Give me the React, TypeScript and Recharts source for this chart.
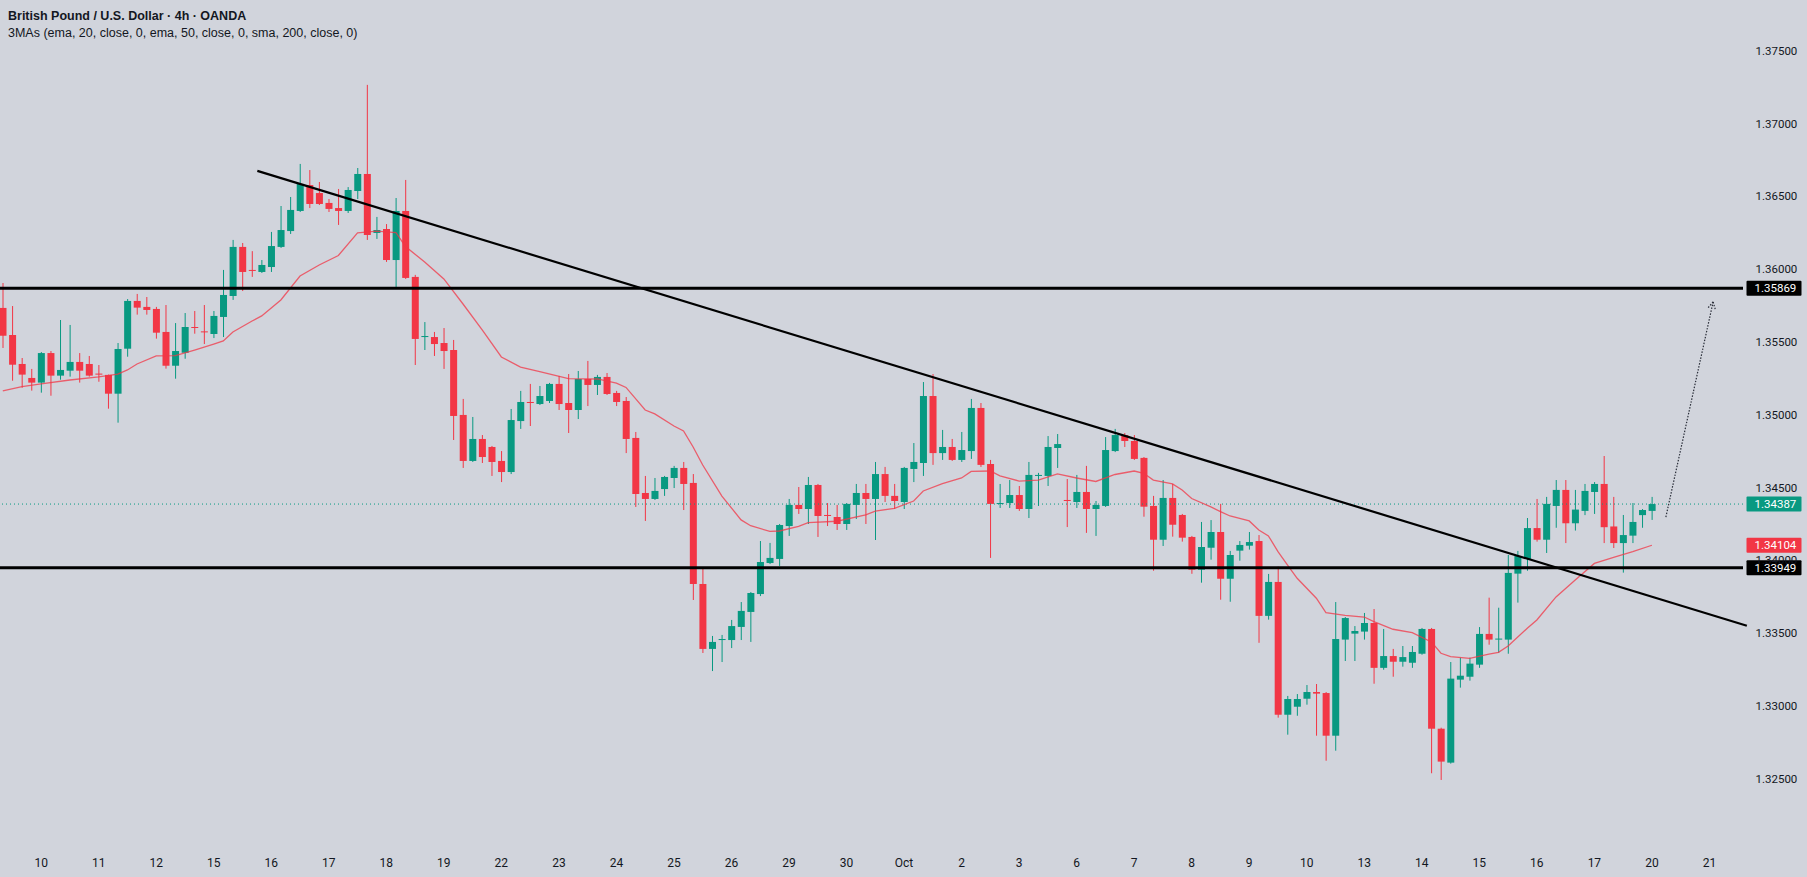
import { Bar, ComposedChart, Line, ReferenceLine, XAxis, YAxis } from "recharts";

const GREEN = "#089981";
const RED = "#f23645";
const INK = "#131722";
const BG = "#d1d4dc";

// 4h candles, oldest first
const opens = [
  1.35734, 1.35548, 1.35349, 1.35253, 1.35221, 1.35424, 1.35269, 1.35303, 1.35363, 1.35349,
  1.35283, 1.35274, 1.35145, 1.35454, 1.35782, 1.35741, 1.35727, 1.35569, 1.35337, 1.35426,
  1.35603, 1.35573, 1.35555, 1.35672, 1.35816, 1.36153, 1.35995, 1.35981, 1.36015, 1.36153,
  1.36262, 1.364, 1.36578, 1.36523, 1.36455, 1.3642, 1.364, 1.36537, 1.36654, 1.36249,
  1.36276, 1.36063, 1.364, 1.35947, 1.35534, 1.35534, 1.35493, 1.35445, 1.34999, 1.34683,
  1.34834, 1.34779, 1.34683, 1.34607, 1.34957, 1.35088, 1.35074, 1.35095, 1.35212, 1.35081,
  1.35033, 1.35246, 1.35205, 1.3526, 1.3515, 1.35095, 1.34841, 1.34463, 1.34422, 1.3449,
  1.34566, 1.34635, 1.34532, 1.33838, 1.33392, 1.33453, 1.33453, 1.33543, 1.33646, 1.33769,
  1.33982, 1.3401, 1.34236, 1.34381, 1.34353, 1.34518, 1.34312, 1.34298, 1.3425, 1.34381,
  1.34463, 1.34422, 1.34593, 1.34443, 1.34401, 1.34628, 1.34669, 1.35129, 1.34737, 1.34779,
  1.3469, 1.34751, 1.35047, 1.34662, 1.34388, 1.34394, 1.34449, 1.34353, 1.3458, 1.3458,
  1.34772, 1.34415, 1.34401, 1.3447, 1.34353, 1.34374, 1.34751, 1.34861, 1.3482, 1.34704,
  1.34374, 1.34142, 1.34429, 1.34312, 1.34161, 1.33936, 1.34087, 1.34195, 1.33874, 1.34067,
  1.34101, 1.34133, 1.33619, 1.33852, 1.3294, 1.32995, 1.3305, 1.33096, 1.33089, 1.32796,
  1.33456, 1.33497, 1.33511, 1.3357, 1.33262, 1.33343, 1.33304, 1.33297, 1.33359, 1.33529,
  1.32844, 1.32611, 1.33181, 1.33201, 1.33284, 1.33495, 1.33456, 1.33456, 1.33909, 1.3401,
  1.34222, 1.34142, 1.34374, 1.34484, 1.34255, 1.3434, 1.3447, 1.34525, 1.34233, 1.34119,
  1.3417, 1.34311, 1.3434,
];
const highs = [
  1.35905, 1.35747, 1.3539, 1.35315, 1.35431, 1.35438, 1.35651, 1.35617, 1.35424, 1.35404,
  1.35342, 1.35276, 1.35493, 1.35795, 1.3583, 1.35809, 1.35741, 1.35754, 1.3563, 1.35699,
  1.35713, 1.35754, 1.35713, 1.35995, 1.36201, 1.3618, 1.36124, 1.36063, 1.36256, 1.36434,
  1.36496, 1.36723, 1.36681, 1.36599, 1.36482, 1.36551, 1.36564, 1.36695, 1.37266, 1.36359,
  1.3631, 1.36489, 1.36613, 1.35961, 1.35637, 1.35569, 1.35596, 1.35514, 1.35109, 1.34985,
  1.34861, 1.34786, 1.34751, 1.3504, 1.35164, 1.35212, 1.35198, 1.35219, 1.35267, 1.3528,
  1.35301, 1.3537, 1.35274, 1.35287, 1.35164, 1.35122, 1.34882, 1.3458, 1.34566, 1.3458,
  1.34649, 1.34676, 1.34593, 1.33948, 1.33481, 1.33488, 1.33591, 1.33714, 1.33783, 1.34133,
  1.3412, 1.3425, 1.34422, 1.34504, 1.34573, 1.34525, 1.34394, 1.34381, 1.34394, 1.34525,
  1.34525, 1.34676, 1.34642, 1.34525, 1.34642, 1.34806, 1.35225, 1.3528, 1.34896, 1.34834,
  1.34882, 1.35109, 1.35081, 1.3469, 1.34525, 1.34552, 1.34511, 1.34676, 1.34601, 1.34854,
  1.34868, 1.34559, 1.34587, 1.34649, 1.34408, 1.34847, 1.34903, 1.34875, 1.34861, 1.3471,
  1.34443, 1.34552, 1.34525, 1.34319, 1.34168, 1.34264, 1.34277, 1.34388, 1.34065, 1.34133,
  1.34195, 1.34174, 1.33907, 1.33957, 1.33069, 1.33082, 1.33144, 1.33151, 1.33096, 1.33714,
  1.33611, 1.33549, 1.33639, 1.33666, 1.33529, 1.33392, 1.33412, 1.33412, 1.33536, 1.33536,
  1.32851, 1.33302, 1.33332, 1.33332, 1.33542, 1.33744, 1.33675, 1.34037, 1.34065, 1.34291,
  1.34422, 1.34436, 1.34552, 1.34552, 1.34484, 1.34525, 1.34538, 1.34717, 1.34436, 1.34312,
  1.34394, 1.34353, 1.34436,
];
const lows = [
  1.35459, 1.35234, 1.35186, 1.35166, 1.35152, 1.35131, 1.35241, 1.35262, 1.35221, 1.35262,
  1.35227, 1.35042, 1.34946, 1.35399, 1.35688, 1.35688, 1.35523, 1.35317, 1.35248, 1.35385,
  1.35557, 1.35486, 1.35527, 1.35534, 1.35789, 1.3585, 1.35947, 1.35974, 1.35981, 1.36146,
  1.36242, 1.36393, 1.3642, 1.36441, 1.36393, 1.36304, 1.36386, 1.36482, 1.36201, 1.36208,
  1.3605, 1.35864, 1.35933, 1.35342, 1.35445, 1.35404, 1.35315, 1.34827, 1.34635, 1.34676,
  1.34669, 1.3458, 1.34538, 1.34593, 1.34903, 1.34923, 1.35067, 1.35081, 1.35033, 1.34875,
  1.34971, 1.3506, 1.35136, 1.35136, 1.3506, 1.34737, 1.34367, 1.34271, 1.34415, 1.34443,
  1.34497, 1.34346, 1.33728, 1.33364, 1.3324, 1.33302, 1.33398, 1.33453, 1.3344, 1.33755,
  1.33975, 1.33962, 1.34168, 1.34319, 1.3425, 1.34161, 1.34236, 1.34209, 1.34209, 1.34284,
  1.3425, 1.3414, 1.34401, 1.34353, 1.34353, 1.34538, 1.3458, 1.34656, 1.3469, 1.34683,
  1.34676, 1.34697, 1.34642, 1.34017, 1.3436, 1.3436, 1.3434, 1.34291, 1.34374, 1.34511,
  1.34635, 1.34229, 1.3436, 1.34189, 1.34168, 1.34367, 1.34744, 1.34779, 1.3469, 1.343,
  1.33929, 1.34099, 1.34163, 1.34129, 1.33908, 1.33847, 1.34005, 1.3373, 1.33716, 1.33998,
  1.34074, 1.33434, 1.33593, 1.3292, 1.32803, 1.32933, 1.33009, 1.32796, 1.32624, 1.32693,
  1.33309, 1.33309, 1.33456, 1.33153, 1.33249, 1.33201, 1.3327, 1.33262, 1.33352, 1.32538,
  1.32492, 1.32604, 1.33126, 1.33174, 1.33262, 1.33421, 1.33366, 1.33359, 1.3371, 1.33929,
  1.34129, 1.34051, 1.34224, 1.34119, 1.34205, 1.34311, 1.34319, 1.34119, 1.34085, 1.33916,
  1.34119, 1.34224, 1.34278,
];
const closes = [
  1.35543, 1.35344, 1.35276, 1.35221, 1.35424, 1.35269, 1.35308, 1.35363, 1.35303, 1.35269,
  1.35276, 1.35145, 1.35452, 1.35782, 1.35736, 1.3572, 1.35564, 1.35337, 1.35438, 1.35603,
  1.35598, 1.35569, 1.35679, 1.35823, 1.36153, 1.35981, 1.35988, 1.36029, 1.36159, 1.36269,
  1.36407, 1.36585, 1.36448, 1.36448, 1.36414, 1.364, 1.36544, 1.36654, 1.36235, 1.36269,
  1.36063, 1.364, 1.3594, 1.35521, 1.35541, 1.35486, 1.35438, 1.34992, 1.34683, 1.34834,
  1.3471, 1.34676, 1.34607, 1.34964, 1.35088, 1.35081, 1.35129, 1.35212, 1.35074, 1.35033,
  1.35246, 1.35205, 1.3526, 1.35143, 1.35088, 1.34834, 1.34456, 1.34422, 1.34477, 1.34573,
  1.34635, 1.34525, 1.33838, 1.33392, 1.3344, 1.3346, 1.33549, 1.33653, 1.33776, 1.33989,
  1.34017, 1.34243, 1.34381, 1.34353, 1.34518, 1.34305, 1.34305, 1.3425, 1.34388, 1.34463,
  1.34422, 1.34593, 1.34443, 1.34408, 1.34635, 1.34676, 1.35129, 1.34737, 1.34779, 1.3469,
  1.34758, 1.35047, 1.34656, 1.34388, 1.34394, 1.34449, 1.34353, 1.34587, 1.34587, 1.34779,
  1.34799, 1.34408, 1.3447, 1.34353, 1.34381, 1.34758, 1.34861, 1.3482, 1.34697, 1.34369,
  1.34142, 1.34429, 1.34245, 1.34156, 1.33936, 1.34092, 1.34195, 1.33874, 1.34037, 1.34106,
  1.34126, 1.33619, 1.33852, 1.3294, 1.33048, 1.33048, 1.33096, 1.33085, 1.32796, 1.3346,
  1.33604, 1.33515, 1.3357, 1.33262, 1.33343, 1.33304, 1.33336, 1.33371, 1.33529, 1.32844,
  1.32618, 1.33188, 1.33208, 1.33291, 1.33495, 1.33456, 1.33463, 1.33914, 1.3403, 1.34222,
  1.34142, 1.34388, 1.34484, 1.34255, 1.34349, 1.34477, 1.34525, 1.34228, 1.34119, 1.34174,
  1.34264, 1.34346, 1.34387,
];

// EMA(20) at these candle positions
const emaIdx = [
  0, 2, 4, 7, 10, 12, 13, 14, 16, 18, 20, 22, 23, 24, 26, 27, 29, 31, 33, 35, 37, 39, 41, 42, 44,
  46, 48, 50, 52, 54, 56, 59, 62, 64, 65, 67, 68, 70, 71, 72, 73, 75, 77, 78, 80, 81, 83, 84, 87,
  90, 91, 93, 95, 96, 98, 100, 101, 103, 104, 106, 108, 110, 112, 114, 116, 118, 119, 120, 122,
  123, 124, 126, 127, 128, 130, 131, 132, 133, 134, 135, 137, 138, 140, 142, 143, 145, 147, 149,
  150, 151, 153, 155, 156, 157, 159, 160, 162, 164, 166, 168, 170, 172,
];
const emaVals = [
  1.35164, 1.35194, 1.35212, 1.35239, 1.3526, 1.3528, 1.35308, 1.35349, 1.35404, 1.35407, 1.35445,
  1.35486, 1.35507, 1.35569, 1.35644, 1.35679, 1.35789, 1.35953, 1.36029, 1.36094, 1.36249,
  1.36262, 1.36252, 1.36156, 1.36049, 1.35933, 1.35761, 1.35583, 1.35397, 1.35328, 1.35297,
  1.35248, 1.35246, 1.35218, 1.35188, 1.35033, 1.35006, 1.34923, 1.34889, 1.34779, 1.34655,
  1.34442, 1.34278, 1.34238, 1.34199, 1.34202, 1.34233, 1.3426, 1.34269, 1.34312, 1.34339,
  1.34358, 1.34408, 1.34477, 1.34528, 1.34566, 1.34611, 1.34614, 1.3458, 1.34545, 1.34552,
  1.34594, 1.34566, 1.34542, 1.3459, 1.34614, 1.34598, 1.34552, 1.34525, 1.34484, 1.34425,
  1.34367, 1.34335, 1.34305, 1.34271, 1.34209, 1.34168, 1.3406, 1.33968, 1.33877, 1.3374,
  1.33641, 1.33622, 1.33611, 1.33579, 1.33527, 1.33504, 1.3344, 1.33362, 1.33339, 1.33327,
  1.33357, 1.33369, 1.33412, 1.33534, 1.33591, 1.33749, 1.33866, 1.33979, 1.34021, 1.3406,
  1.34104,
];

const dayLabels = [
  "10", "11", "12", "15", "16", "17", "18", "19", "22", "23", "24", "25", "26", "29", "30",
  "Oct", "2", "3", "6", "7", "8", "9", "10", "13", "14", "15", "16", "17", "20", "21",
];
const priceTicks = [1.325, 1.33, 1.335, 1.34, 1.345, 1.35, 1.355, 1.36, 1.365, 1.37, 1.375];

const resistance = 1.35869;
const support = 1.33949;
const lastPrice = 1.34387;
const emaLast = 1.34104;
const trendLine = [
  { x: 26.9, y: 1.36675 },
  { x: 181.4, y: 1.33551 },
];
const targetArrow = [
  { x: 173.0, y: 1.34298 },
  { x: 177.9, y: 1.35775 },
];

const SLOTS = 182; // candles + empty space on the right
const Y_MIN = 1.320659;
const Y_MAX = 1.378489;

const emaAt = new Map(emaIdx.map((k, j) => [k, emaVals[j]]));
const rows = Array.from({ length: SLOTS }, (_, i) => ({
  i,
  open: opens[i] ?? null,
  high: highs[i] ?? null,
  low: lows[i] ?? null,
  close: closes[i] ?? null,
  ema: emaAt.get(i) ?? null,
}));
const dayTicks = dayLabels.map((_, k) => 4 + 6 * k);
const labelAt = new Map(dayTicks.map((t, k) => [t, dayLabels[k]]));

function Candle(props: any) {
  const { x, y, width, height, payload } = props;
  if (!payload || payload.open == null) return <g />;
  const { open, close, high, low } = payload;
  const color = close >= open ? GREEN : RED;
  const top = Math.min(y, y + height);
  const h = Math.abs(height);
  const span = high - low || 1;
  const toY = (v: number) => top + ((high - v) / span) * h;
  const cx = x + width / 2;
  const bTop = toY(Math.max(open, close));
  const bBot = toY(Math.min(open, close));
  return (
    <g>
      <line x1={cx} x2={cx} y1={top} y2={top + h} stroke={color} strokeWidth={1} />
      <rect x={cx - 3.5} y={bTop} width={7} height={Math.max(1, bBot - bTop)} fill={color} />
    </g>
  );
}

const priceTag = (value: number, fill: string) => (props: any) => {
  const vb = props.viewBox;
  const x = vb.x + vb.width + 3.5;
  const y = vb.y;
  return (
    <g>
      <rect x={x} y={y - 7.5} width={55} height={15} fill={fill} rx={1} />
      <text
        x={x + 8}
        y={y}
        fill="#ffffff"
        fontSize={11.5}
        fontFamily="Roboto, sans-serif"
        dominantBaseline="central"
      >
        {value.toFixed(5)}
      </text>
    </g>
  );
};

function SolidSegment(p: any) {
  return <line x1={p.x1} y1={p.y1} x2={p.x2} y2={p.y2} stroke="#000" strokeWidth={2.2} />;
}

function ArrowShape(p: any) {
  const { x1, y1, x2, y2 } = p;
  const ang = Math.atan2(y2 - y1, x2 - x1);
  const len = 8;
  const a1 = ang + Math.PI - 0.5;
  const a2 = ang + Math.PI + 0.5;
  return (
    <g stroke="#2a2e39" strokeWidth={1.2} strokeDasharray="1.5 1.5" fill="none">
      <line x1={x1} y1={y1} x2={x2} y2={y2} />
      <line x1={x2} y1={y2} x2={x2 + len * Math.cos(a1)} y2={y2 + len * Math.sin(a1)} />
      <line x1={x2} y1={y2} x2={x2 + len * Math.cos(a2)} y2={y2 + len * Math.sin(a2)} />
    </g>
  );
}

function TimeTick(props: any) {
  const lab = labelAt.get(props.payload?.value);
  if (!lab) return <g />;
  return (
    <text
      x={props.x}
      y={862.7}
      textAnchor="middle"
      dominantBaseline="central"
      fill={INK}
      fontSize={12}
      fontFamily="Roboto, sans-serif"
    >
      {lab}
    </text>
  );
}

function PriceTick(props: any) {
  return (
    <text
      x={props.x + 12.5}
      y={props.y}
      dominantBaseline="central"
      fill={INK}
      fontSize={11.5}
      fontFamily="Roboto, sans-serif"
    >
      {Number(props.payload.value).toFixed(5)}
    </text>
  );
}

export default function App() {
  return (
    <div
      style={{
        position: "fixed",
        left: 0,
        top: 0,
        width: 1807,
        height: 877,
        overflow: "hidden",
        background: BG,
      }}
    >
      <div style={{ position: "absolute", left: -2.5, top: 0 }}>
        <ComposedChart
          width={1810}
          height={877}
          data={rows}
          margin={{ top: 0, right: 0, bottom: 0, left: 0 }}
          barCategoryGap={0}
        >
          <XAxis
            xAxisId="cat"
            dataKey="i"
            interval={0}
            height={35}
            axisLine={false}
            tickLine={false}
            tickSize={0}
            tick={<TimeTick />}
          />
          <XAxis xAxisId="num" type="number" domain={[-0.5, SLOTS - 0.5]} hide allowDataOverflow />
          <YAxis
            orientation="right"
            width={65}
            domain={[Y_MIN, Y_MAX]}
            ticks={priceTicks}
            allowDataOverflow
            axisLine={false}
            tickLine={false}
            tickSize={0}
            tickMargin={0}
            tick={<PriceTick />}
          />
          <ReferenceLine
            xAxisId="num"
            y={lastPrice}
            stroke={GREEN}
            strokeWidth={1}
            strokeDasharray="1 3"
            label={priceTag(lastPrice, GREEN)}
          />
          <ReferenceLine
            xAxisId="num"
            y={emaLast}
            stroke="none"
            label={priceTag(emaLast, RED)}
          />
          <Line
            xAxisId="cat"
            dataKey="ema"
            stroke={RED}
            strokeOpacity={0.75}
            strokeWidth={1.3}
            dot={false}
            activeDot={false}
            connectNulls
            isAnimationActive={false}
          />
          <Bar
            xAxisId="cat"
            dataKey={(d: any) => (d.low == null ? null : [d.low, d.high])}
            shape={<Candle />}
            isAnimationActive={false}
          />
          <ReferenceLine
            xAxisId="num"
            y={resistance}
            stroke="#000"
            strokeWidth={3}
            label={priceTag(resistance, "#000")}
          />
          <ReferenceLine
            xAxisId="num"
            y={support}
            stroke="#000"
            strokeWidth={3}
            label={priceTag(support, "#000")}
          />
          <ReferenceLine
            xAxisId="num"
            segment={trendLine}
            ifOverflow="visible"
            shape={SolidSegment}
          />
          <ReferenceLine xAxisId="num" segment={targetArrow} shape={ArrowShape} />
        </ComposedChart>
      </div>
      <div
        style={{
          position: "absolute",
          left: 8,
          top: 8,
          lineHeight: "17px",
          fontFamily: "'Liberation Sans', Arial, sans-serif",
          fontSize: 12.5,
          color: INK,
        }}
      >
        <div style={{ fontWeight: 600 }}>British Pound / U.S. Dollar · 4h · OANDA</div>
        <div>3MAs (ema, 20, close, 0, ema, 50, close, 0, sma, 200, close, 0)</div>
      </div>
    </div>
  );
}
